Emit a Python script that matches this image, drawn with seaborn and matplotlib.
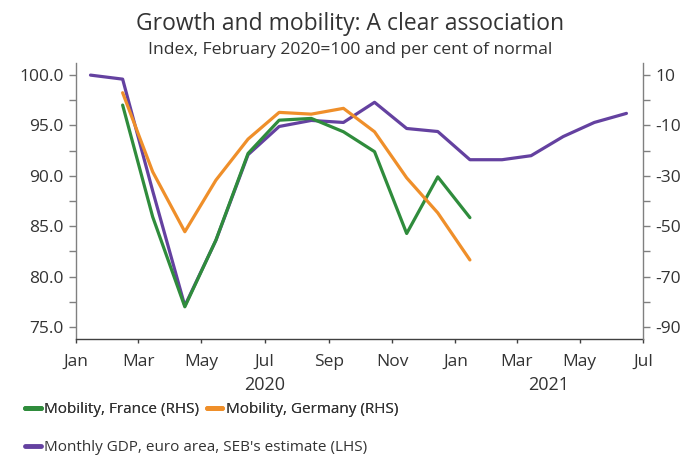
import matplotlib

matplotlib.use('Agg')
import matplotlib.dates as mdates
import matplotlib.pyplot as plt
from matplotlib.lines import Line2D
from matplotlib.ticker import MultipleLocator, FormatStrFormatter
import pandas as pd
import seaborn as sns

# monthly values, plotted mid-month
gdp_months = pd.date_range('2020-01-01', periods=18, freq='MS') + pd.Timedelta(days=14)
gdp = [100.0, 99.6, 88.5, 77.1, 83.6, 92.1, 94.9, 95.5, 95.3, 97.3, 94.7, 94.4,
       91.6, 91.6, 92.0, 93.9, 95.3, 96.2]

mob_months = gdp_months[1:13]
mob_france = [-1.9, -46.3, -82.0, -55.5, -21.1, -7.9, -7.2, -12.5, -20.4, -52.9, -30.4, -46.6]
mob_germany = [3.0, -28.4, -52.2, -31.7, -15.4, -4.8, -5.5, -3.2, -12.5, -30.8, -44.7, -63.4]

labels = ['Mobility, France (RHS)', 'Mobility, Germany (RHS)',
          "Monthly GDP, euro area, SEB's estimate (LHS)"]
colors = ['#2f8c3c', '#ef8f2a', '#6441a0']

sns.set_style('white')
plt.rcParams['font.family'] = ['Open Sans', 'DejaVu Sans']
plt.rcParams['axes.unicode_minus'] = False
grey = '#808080'
txt = '#333333'

fig = plt.figure(figsize=(6.87, 4.59), dpi=100)
ax = fig.add_axes([0.1106, 0.2614, 0.8254, 0.6013])
ax2 = ax.twinx()

lw = 2.3
sns.lineplot(x=gdp_months, y=gdp, ax=ax, color=colors[2], lw=lw)
sns.lineplot(x=mob_months, y=mob_france, ax=ax2, color=colors[0], lw=lw)
sns.lineplot(x=mob_months, y=mob_germany, ax=ax2, color=colors[1], lw=lw)

ax.set_xlim(pd.Timestamp('2020-01-01'), pd.Timestamp('2021-07-01'))
ax.set_ylim(73.8, 101.2)
ax2.set_ylim(-94.8, 14.8)

ax.yaxis.set_major_locator(MultipleLocator(5))
ax.yaxis.set_minor_locator(MultipleLocator(2.5))
ax.yaxis.set_major_formatter(FormatStrFormatter('%.1f'))
ax2.yaxis.set_major_locator(MultipleLocator(20, offset=10))
ax2.yaxis.set_minor_locator(MultipleLocator(10))

ax.xaxis.set_major_locator(mdates.MonthLocator(bymonth=[1, 3, 5, 7, 9, 11]))
ax.xaxis.set_major_formatter(mdates.DateFormatter('%b'))

for a in (ax, ax2):
    a.set_xlabel('')
    a.set_ylabel('')
    a.spines['top'].set_visible(False)
    for s in ('left', 'right'):
        a.spines[s].set_color(grey)
        a.spines[s].set_linewidth(1.0)
    a.tick_params(which='both', color=grey, width=1.0, length=5,
                  labelsize=12.5, labelcolor=txt)

ax.spines['bottom'].set_color('#404040')
ax.spines['bottom'].set_linewidth(1.0)
ax.tick_params(axis='y', which='both', left=True, right=False, pad=4)
ax2.tick_params(axis='y', which='both', right=True, left=False, pad=4)
ax.tick_params(axis='x', which='major', bottom=True, length=3, color='#404040', pad=8)
ax.spines['right'].set_visible(False)
ax2.spines['left'].set_visible(False)
ax2.spines['bottom'].set_visible(False)

for yr, day in (('2020', '2020-07-01'), ('2021', '2021-04-01')):
    ax.annotate(yr, xy=(mdates.date2num(pd.Timestamp(day)), 0),
                xycoords=('data', 'axes fraction'), xytext=(0, -33),
                textcoords='offset points', ha='center', va='center',
                fontsize=13, color=txt)

fig.text(0.509, 0.948, 'Growth and mobility: A clear association',
         ha='center', va='center', fontsize=16.5, color=txt)
fig.text(0.510, 0.892, 'Index, February 2020=100 and per cent of normal',
         ha='center', va='center', fontsize=12.6, color=txt)

handles = [Line2D([], [], color=c, lw=3.5) for c in colors]
leg1 = fig.legend(handles[:2], labels[:2], loc='center left', bbox_to_anchor=(0.028, 0.107),
                  ncol=2, frameon=False, fontsize=11, handlelength=1.0,
                  handletextpad=0.25, columnspacing=0.5, borderaxespad=0,
                  labelcolor=txt)
fig.legend(handles[2:], labels[2:], loc='center left', bbox_to_anchor=(0.028, 0.024),
           frameon=False, fontsize=11, handlelength=1.0, handletextpad=0.25,
           borderaxespad=0, labelcolor=txt)
fig.add_artist(leg1)

fig.savefig('out.png', dpi=100)
